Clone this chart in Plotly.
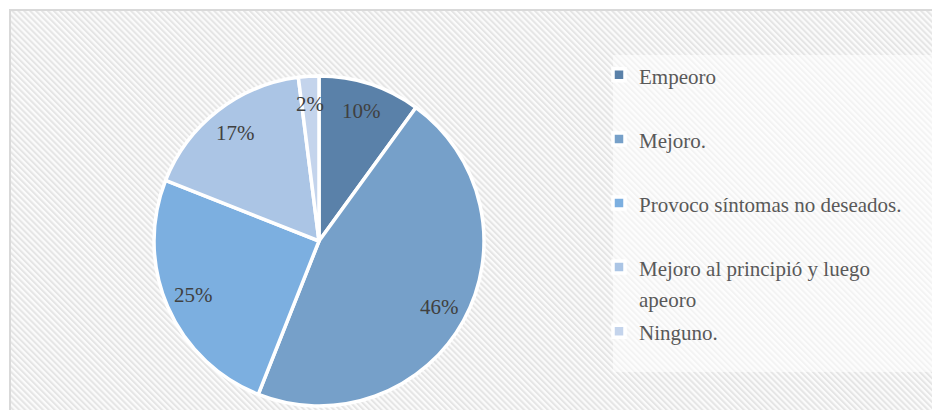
import base64
import math
import plotly.graph_objects as go

# datos de la encuesta
categorias = ["Empeoro", "Mejoro.", "Provoco síntomas no deseados.",
              "Mejoro al principió y luego<br>apeoro", "Ninguno."]
porcentajes = [10, 46, 25, 17, 2]
colores = ["#5a81a9", "#76a0c9", "#7cafe0", "#abc5e5", "#c4d4ec"]

W, H = 940, 410
# la pagina tiene 8px de margen, todo va corrido
cx, cy, r = 311, 233, 165

# fondo rayado (estilo Excel)
svg = (
    "<svg xmlns='http://www.w3.org/2000/svg' width='%d' height='%d'>"
    "<defs><pattern id='p' width='4.2' height='4.2' patternUnits='userSpaceOnUse' "
    "patternTransform='rotate(-45)'>"
    "<rect width='4.2' height='4.2' fill='#fbfbfb'/>"
    "<rect width='2' height='4.2' fill='#e5e5e5'/></pattern></defs>"
    "<rect width='%d' height='%d' fill='url(#p)'/></svg>" % (W, H, W, H)
)
fondo = "data:image/svg+xml;base64," + base64.b64encode(svg.encode()).decode()

# leyenda: texto a 21px, el tamaño base solo fija el alto de linea
etiquetas = []
for c in categorias:
    txt = "<span style='font-size:21px'>" + c + "</span>"
    if c.count("<br>") == 0:
        txt += "<br> "
    etiquetas.append(txt)

fig = go.Figure()
fig.add_trace(go.Pie(
    labels=etiquetas,
    values=porcentajes,
    sort=False,
    direction="clockwise",
    rotation=0,
    marker=dict(colors=colores, line=dict(color="white", width=3.5)),
    textinfo="none",
    domain=dict(x=[(cx - r) / W, (cx + r) / W],
                y=[1 - (cy + r) / H, 1 - (cy - r) / H]),
    hoverinfo="percent",
))

# etiquetas de porcentaje, como "ajuste perfecto" de Excel
total = sum(porcentajes)
acum = 0
notas = []
for v in porcentajes:
    ang = math.radians((acum + v / 2) / total * 360)
    acum += v
    notas.append(dict(
        x=(cx + 0.83 * r * math.sin(ang)) / W,
        y=1 - (cy - 0.83 * r * math.cos(ang)) / H,
        xref="paper", yref="paper", showarrow=False,
        xanchor="center", yanchor="middle",
        text="%d%%" % round(v / total * 100),
        font=dict(family="Liberation Serif", size=21, color="#404040"),
    ))

fig.update_layout(
    width=W, height=H,
    margin=dict(l=0, r=0, t=0, b=0, pad=0),
    paper_bgcolor="white",
    plot_bgcolor="white",
    font=dict(family="Liberation Serif", color="#595959"),
    annotations=notas,
    images=[dict(source=fondo, xref="paper", yref="paper", x=2 / W, y=1 - 2 / H,
                 sizex=1, sizey=1, xanchor="left", yanchor="top",
                 sizing="stretch", layer="below")],
    shapes=[
        dict(type="rect", xref="paper", yref="paper", x0=2 / W, x1=1.02,
             y0=-0.02, y1=1 - 2 / H, line=dict(color="#d9d9d9", width=2),
             layer="below"),
        dict(type="rect", xref="paper", yref="paper", x0=605 / W, x1=1.02,
             y0=1 - 364 / H, y1=1 - 47 / H, line=dict(width=0),
             fillcolor="rgba(255,255,255,0.55)", layer="below"),
    ],
    legend=dict(
        x=591 / W, y=1 - 45 / H, xanchor="left", yanchor="top",
        bgcolor="rgba(0,0,0,0)",
        font=dict(family="Liberation Serif", size=23.5, color="#595959"),
        valign="top",
        traceorder="normal",
    ),
    showlegend=True,
)

fig.write_html("out.html")
